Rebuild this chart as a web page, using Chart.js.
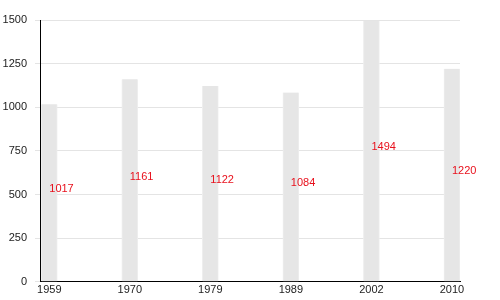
<!DOCTYPE html>
<html>
<head>
<meta charset="utf-8">
<script src="https://cdn.jsdelivr.net/npm/chart.js@4/dist/chart.umd.min.js"></script>
<style>
  html, body { margin: 0; padding: 0; background: #fff; }
  #wrap { width: 500px; height: 300px; }
</style>
</head>
<body>
<div id="wrap"><canvas id="myChart"></canvas></div>
<script>
// Population by census year
var years = ['1959', '1970', '1979', '1989', '2002', '2010'];
var population = [1017, 1161, 1122, 1084, 1494, 1220];
var yTicks = [0, 250, 500, 750, 1000, 1250, 1500];

var points = population.map((v, i) => ({ x: i, y: v }));

// red value labels, halfway up each bar
var valueLabels = {
    id: 'valueLabels',
    afterDatasetsDraw(chart) {
        var ctx = chart.ctx;
        var xs = chart.scales.x, ys = chart.scales.y;
        ctx.save();
        ctx.font = '11px "Liberation Sans", Arial, sans-serif';
        ctx.fillStyle = '#e8101c';
        ctx.textAlign = 'left';
        ctx.textBaseline = 'middle';
        population.forEach((v, i) => {
            ctx.fillText(String(v), xs.getPixelForValue(i), ys.getPixelForValue(v / 2) - 4);
        });
        ctx.restore();
    }
};

Chart.defaults.font.family = '"Liberation Sans", Arial, sans-serif';
Chart.defaults.font.size = 11;
Chart.defaults.color = '#222';

var ctx = document.getElementById('myChart').getContext('2d');
var myChart = new Chart(ctx, {
    type: 'bar',
    data: {
        datasets: [{
            data: points,
            backgroundColor: '#e6e6e6',
            borderColor: '#eeeeee',
            borderWidth: { left: 1, right: 1, top: 0, bottom: 0 },
            barThickness: 16
        }]
    },
    options: {
        responsive: true,
        maintainAspectRatio: false,
        animation: false,
        layout: { padding: { top: 20, right: 40, bottom: 1, left: 0 } },
        plugins: { legend: { display: false }, tooltip: { enabled: false } },
        scales: {
            x: {
                type: 'linear',
                offset: false,
                min: -0.115,
                max: 5.1,
                afterBuildTicks: s => { s.ticks = years.map((_, i) => ({ value: i })); },
                ticks: {
                    callback: v => years[v],
                    maxRotation: 0,
                    autoSkip: false,
                    padding: 2
                },
                grid: { display: false, drawTicks: false },
                border: { display: true, color: '#000', width: 1 }
            },
            y: {
                min: 0,
                max: 1500,
                afterBuildTicks: s => { s.ticks = yTicks.map(v => ({ value: v })); },
                afterFit: s => { s.width = 40; },
                ticks: { padding: 8, callback: v => String(v) },
                grid: { color: '#e4e4e4', tickLength: 5, tickColor: '#e4e4e4' },
                border: { display: true, color: '#000', width: 1 }
            }
        }
    },
    plugins: [valueLabels]
});
</script>
</body>
</html>
